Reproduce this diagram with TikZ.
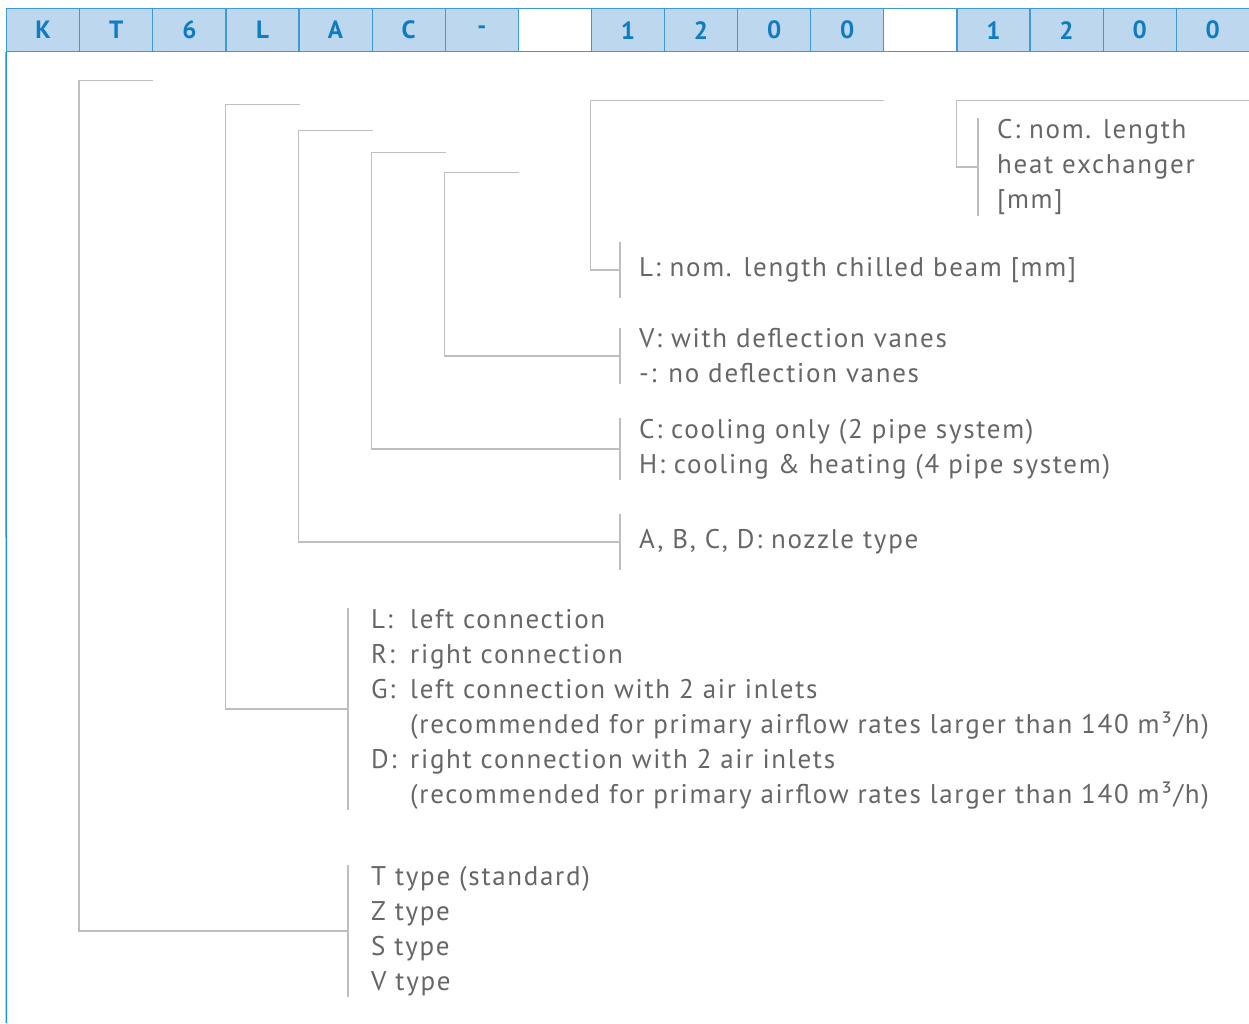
\documentclass[tikz,border=0pt]{standalone}
\usepackage{fontspec}
\setmainfont[LetterSpace=6.3]{PT Sans}

\definecolor{azzurro}{RGB}{189,215,238}
\definecolor{bordoblu}{RGB}{62,154,212}
\definecolor{scrittablu}{RGB}{16,124,192}
\definecolor{cornice}{RGB}{28,146,222}
\definecolor{grigio}{RGB}{190,190,190}
\definecolor{grigiotesto}{RGB}{102,102,102}

% colonna per le sigle (L:, R:, G:, D:)
\newcommand{\sigla}[1]{\makebox[39pt][l]{#1}}

\begin{document}
\begin{tikzpicture}[x=1pt, y=-1pt,
  casella/.style={draw=bordoblu, line width=1.2pt, fill=azzurro, text=scrittablu,
    minimum width=73.1pt, minimum height=43pt, inner sep=0pt, anchor=north west,
    font=\fontsize{25}{30}\selectfont\bfseries},
  vuota/.style={casella, fill=white},
  linea/.style={draw=grigio, line width=1.3pt},
  descr/.style={anchor=west, align=left, text=grigiotesto, inner xsep=19pt, inner ysep=1pt,
    font=\fontsize{27}{35}\selectfont},
  riga/.style={descr, minimum height=56pt}]
\useasboundingbox (0,0) rectangle (1249,1023);

% Intestazione: codice
\foreach \lab/\tipo [count=\i] in {K/casella, T/casella, 6/casella, L/casella, A/casella,
    C/casella, -/casella, {}/vuota, 1/casella, 2/casella, 0/casella, 0/casella, {}/vuota,
    1/casella, 2/casella, 0/casella, 0/casella}
  \node[\tipo] (c\i) at ({6+73.1*(\i-1)}, 8) {\lab};

% Bordo sinistro
\coordinate (fondo) at (6.5,1023);
\draw[cornice, line width=1.5pt] (c1.south west) -- (fondo);

% Descrizioni
\node[descr] (nHx) at (978,167) {C: nom. length\\heat exchanger\\{}[mm]};
\node[riga] (nLen) at (620,270) {L: nom. length chilled beam [mm]};
\node[descr] (nVane) at (620,356) {V: with deflection vanes\\-: no deflection vanes};
\node[descr] (nCool) at (620,449) {C: cooling only (2 pipe system)\\H: cooling \& heating (4 pipe system)};
\node[riga] (nNoz) at (620,542) {A, B, C, D: nozzle type};
\node[descr, inner xsep=23pt] (nConn) at (348,709) {\sigla{L:}left connection\\
  \sigla{R:}right connection\\
  \sigla{G:}left connection with 2 air inlets\\
  \sigla{}(recommended for primary airflow rates larger than 140 m³/h)\\
  \sigla{D:}right connection with 2 air inlets\\
  \sigla{}(recommended for primary airflow rates larger than 140 m³/h)};
\node[descr, inner xsep=23pt] (nType) at (348,931) {T type (standard)\\Z type\\S type\\V type};

% Barrette verticali
\foreach \n in {nHx, nLen, nVane, nCool, nNoz, nConn, nType}
  \draw[linea] (\n.north west) -- (\n.south west);

% Staffe dalle caselle
\draw[linea] ([yshift=-28pt]c2.south east) -- ([yshift=-28pt]c2.south west) |- (nType.west);
\draw[linea] ([yshift=-52pt]c4.south east) -- ([yshift=-52pt]c4.south west) |- (nConn.west);
\draw[linea] ([yshift=-78pt]c5.south east) -- ([yshift=-78pt]c5.south west) |- (nNoz.west);
\draw[linea] ([yshift=-100pt]c6.south east) -- ([yshift=-100pt]c6.south west) |- (nCool.west);
\draw[linea] ([yshift=-120pt]c7.south east) -- ([yshift=-120pt]c7.south west) |- (nVane.west);
\draw[linea] ([yshift=-48pt]c12.south east) -- ([yshift=-48pt]c9.south west) |- (nLen.west);
\draw[linea] ([yshift=-48pt]c17.south east) -- ([yshift=-48pt]c14.south west) |- (nHx.west);
\end{tikzpicture}
\end{document}
